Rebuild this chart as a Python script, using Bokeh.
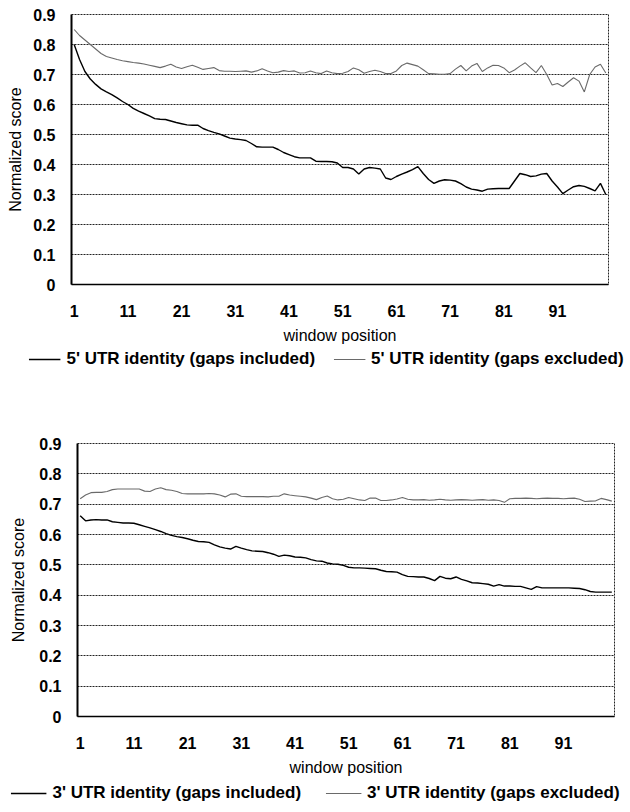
from bokeh.plotting import figure
from bokeh.models import FixedTicker, Legend, LegendItem, ColumnDataSource
from bokeh.embed import file_html
from bokeh.resources import INLINE

windows = list(range(1, 101))

utr5_included = [0.80, 0.75, 0.71, 0.685, 0.667, 0.652, 0.642, 0.633, 0.622, 0.61,
                 0.60, 0.587, 0.578, 0.57, 0.562, 0.553, 0.551, 0.55, 0.545, 0.54,
                 0.536, 0.532, 0.531, 0.531, 0.52, 0.513, 0.507, 0.502, 0.495, 0.488,
                 0.485, 0.483, 0.48, 0.47, 0.459, 0.458, 0.458, 0.458, 0.45, 0.44,
                 0.433, 0.426, 0.422, 0.422, 0.422, 0.411, 0.41, 0.41, 0.409, 0.405,
                 0.39, 0.39, 0.385, 0.368, 0.385, 0.39, 0.388, 0.385, 0.355, 0.35,
                 0.36, 0.368, 0.375, 0.383, 0.393, 0.37, 0.35, 0.337, 0.345, 0.349,
                 0.348, 0.345, 0.336, 0.325, 0.318, 0.315, 0.311, 0.318, 0.319, 0.32,
                 0.32, 0.32, 0.345, 0.37, 0.366, 0.36, 0.362, 0.368, 0.37, 0.345,
                 0.325, 0.303, 0.315, 0.326, 0.33, 0.327, 0.32, 0.312, 0.337, 0.30]

utr5_excluded = [0.85, 0.83, 0.815, 0.80, 0.785, 0.77, 0.76, 0.755, 0.75, 0.746,
                 0.743, 0.74, 0.738, 0.735, 0.731, 0.727, 0.723, 0.728, 0.734, 0.725,
                 0.72, 0.726, 0.731, 0.724, 0.717, 0.72, 0.723, 0.713, 0.711, 0.711,
                 0.71, 0.711, 0.712, 0.708, 0.712, 0.719, 0.712, 0.706, 0.708, 0.713,
                 0.71, 0.712, 0.705, 0.706, 0.712, 0.706, 0.703, 0.712, 0.706, 0.703,
                 0.704, 0.71, 0.722, 0.716, 0.704, 0.71, 0.714, 0.71, 0.703, 0.703,
                 0.712, 0.73, 0.738, 0.733, 0.728, 0.716, 0.703, 0.702, 0.701, 0.701,
                 0.703, 0.718, 0.73, 0.712, 0.728, 0.737, 0.71, 0.722, 0.731, 0.73,
                 0.722, 0.706, 0.715, 0.728, 0.739, 0.722, 0.706, 0.73, 0.70, 0.665,
                 0.67, 0.66, 0.675, 0.689, 0.678, 0.642, 0.70, 0.725, 0.734, 0.705]

utr3_included = [0.662, 0.645, 0.648, 0.649, 0.648, 0.648, 0.642, 0.64, 0.638, 0.638,
                 0.637, 0.632, 0.627, 0.622, 0.616, 0.61, 0.603, 0.597, 0.593, 0.59,
                 0.586, 0.581, 0.577, 0.576, 0.574, 0.566, 0.559, 0.555, 0.552, 0.561,
                 0.555, 0.55, 0.546, 0.545, 0.544, 0.54, 0.535, 0.528, 0.532, 0.53,
                 0.526, 0.525, 0.523, 0.517, 0.513, 0.512, 0.506, 0.503, 0.502, 0.498,
                 0.492, 0.49, 0.49, 0.489, 0.488, 0.487, 0.482, 0.478, 0.477, 0.476,
                 0.468, 0.462, 0.461, 0.46, 0.46, 0.455, 0.448, 0.462, 0.456, 0.454,
                 0.46, 0.452, 0.447, 0.441, 0.44, 0.438, 0.436, 0.43, 0.435, 0.43,
                 0.43, 0.429, 0.429, 0.424, 0.419, 0.428, 0.424, 0.424, 0.424, 0.424,
                 0.424, 0.424, 0.423, 0.422, 0.418, 0.412, 0.41, 0.41, 0.41, 0.41]

utr3_excluded = [0.718, 0.73, 0.738, 0.739, 0.739, 0.742, 0.748, 0.75, 0.75, 0.75,
                 0.75, 0.75, 0.743, 0.742, 0.75, 0.754, 0.748, 0.746, 0.742, 0.735,
                 0.734, 0.734, 0.734, 0.734, 0.735, 0.734, 0.73, 0.724, 0.733, 0.734,
                 0.726, 0.725, 0.725, 0.725, 0.725, 0.724, 0.726, 0.726, 0.734, 0.73,
                 0.728, 0.726, 0.724, 0.72, 0.715, 0.722, 0.727, 0.718, 0.714, 0.716,
                 0.722, 0.718, 0.714, 0.712, 0.72, 0.72, 0.712, 0.712, 0.714, 0.717,
                 0.722, 0.716, 0.714, 0.714, 0.715, 0.713, 0.714, 0.716, 0.714, 0.713,
                 0.714, 0.715, 0.714, 0.713, 0.714, 0.715, 0.713, 0.714, 0.712, 0.706,
                 0.718, 0.719, 0.719, 0.72, 0.719, 0.718, 0.719, 0.72, 0.719, 0.719,
                 0.718, 0.719, 0.72, 0.716, 0.709, 0.71, 0.711, 0.719, 0.715, 0.71]

y_ticks = [0, 0.1, 0.2, 0.3, 0.4, 0.5, 0.6, 0.7, 0.8, 0.9]
y_tick_labels = ["0", "0.1", "0.2", "0.3", "0.4", "0.5", "0.6", "0.7", "0.8", "0.9"]
x_ticks = [1, 11, 21, 31, 41, 51, 61, 71, 81, 91]

FONT = "Liberation Sans"
INC_COLOR, INC_WIDTH = "black", 1.4
EXC_COLOR, EXC_WIDTH = "#6a6a6a", 1.1


def make_chart(included, excluded, width, height, border_left, border_right,
               border_top, border_bottom, ylabel_standoff):
    src = ColumnDataSource(dict(x=windows, inc=included, exc=excluded))
    p = figure(width=width, height=height,
               x_range=(0.5, 100.5), y_range=(0, 0.9),
               output_backend="svg", toolbar_location=None,
               min_border_left=border_left, min_border_right=border_right,
               min_border_top=border_top, min_border_bottom=border_bottom,
               background_fill_color="white", border_fill_color="white")
    p.outline_line_color = "#222222"
    p.outline_line_dash = "2 1"
    p.outline_line_width = 1

    p.xgrid.visible = False
    p.ygrid.ticker = FixedTicker(ticks=y_ticks)
    p.ygrid.grid_line_color = "#222222"
    p.ygrid.grid_line_dash = "2 1"
    p.ygrid.grid_line_width = 1

    p.yaxis.ticker = FixedTicker(ticks=y_ticks)
    p.yaxis.major_label_overrides = {t: l for t, l in zip(y_ticks, y_tick_labels)}
    p.xaxis.ticker = FixedTicker(ticks=x_ticks)
    p.xaxis.major_label_overrides = {t: str(t) for t in x_ticks}

    for ax in (p.xaxis[0], p.yaxis[0]):
        ax.axis_line_color = "black"
        ax.major_tick_line_color = None
        ax.minor_tick_line_color = None
        ax.major_label_text_font = FONT
        ax.major_label_text_font_style = "bold"
        ax.major_label_text_font_size = "16px"
        ax.major_label_text_color = "black"
        ax.axis_label_text_font = FONT
        ax.axis_label_text_font_style = "normal"
        ax.axis_label_text_font_size = "16px"
        ax.axis_label_text_color = "black"
    p.yaxis.axis_line_width = 2
    p.xaxis.axis_line_width = 1.5
    p.yaxis.axis_label = "Normalized score"
    p.xaxis.axis_label = "window position"
    p.yaxis.major_label_standoff = 10
    p.xaxis.major_label_standoff = 14
    p.yaxis.axis_label_standoff = ylabel_standoff
    p.xaxis.axis_label_standoff = 7

    p.line("x", "inc", source=src, line_color=INC_COLOR, line_width=INC_WIDTH)
    p.line("x", "exc", source=src, line_color=EXC_COLOR, line_width=EXC_WIDTH)
    return p


def make_legend(included, excluded, prefix, width, height, border_left, glyph_w, spacing):
    # legend-only strip: the series are drawn outside the visible x range,
    # so only the legend entries (with their line samples) show
    src = ColumnDataSource(dict(x=windows, inc=included, exc=excluded))
    lf = figure(width=width, height=height, x_range=(-20, -10), y_range=(0, 1),
                output_backend="svg", toolbar_location=None,
                x_axis_location=None, y_axis_location=None,
                min_border_left=border_left, min_border_right=0,
                min_border_top=0, min_border_bottom=0,
                background_fill_color="white", border_fill_color="white")
    lf.outline_line_color = None
    lf.xgrid.visible = False
    lf.ygrid.visible = False
    r_inc = lf.line("x", "inc", source=src, line_color=INC_COLOR, line_width=INC_WIDTH)
    r_exc = lf.line("x", "exc", source=src, line_color=EXC_COLOR, line_width=EXC_WIDTH)
    legend = Legend(items=[
        LegendItem(label=prefix + " UTR identity (gaps included)", renderers=[r_inc]),
        LegendItem(label=prefix + " UTR identity (gaps excluded)", renderers=[r_exc]),
    ], orientation="horizontal", location="center")
    legend.border_line_color = None
    legend.background_fill_alpha = 0
    legend.label_text_font = FONT
    legend.label_text_font_style = "bold"
    legend.label_text_font_size = "17px"
    legend.label_text_color = "black"
    legend.glyph_width = glyph_w
    legend.label_standoff = 6
    legend.spacing = spacing
    legend.padding = 0
    legend.margin = 0
    lf.add_layout(legend, "center")
    return lf


top = make_chart(utr5_included, utr5_excluded, 622, 346, 71, 14, 14, 62, 6)
top_legend = make_legend(utr5_included, utr5_excluded, "5'", 630, 26, 22, 32, 18)
bottom = make_chart(utr3_included, utr3_excluded, 630, 406, 77, 16, 71, 62, 9)
bottom_legend = make_legend(utr3_included, utr3_excluded, "3'", 630, 30, 0, 36, 24)

# separate roots so each figure keeps its own borders (no frame alignment)
open("out.html", "w").write(file_html([top, top_legend, bottom, bottom_legend], INLINE))
